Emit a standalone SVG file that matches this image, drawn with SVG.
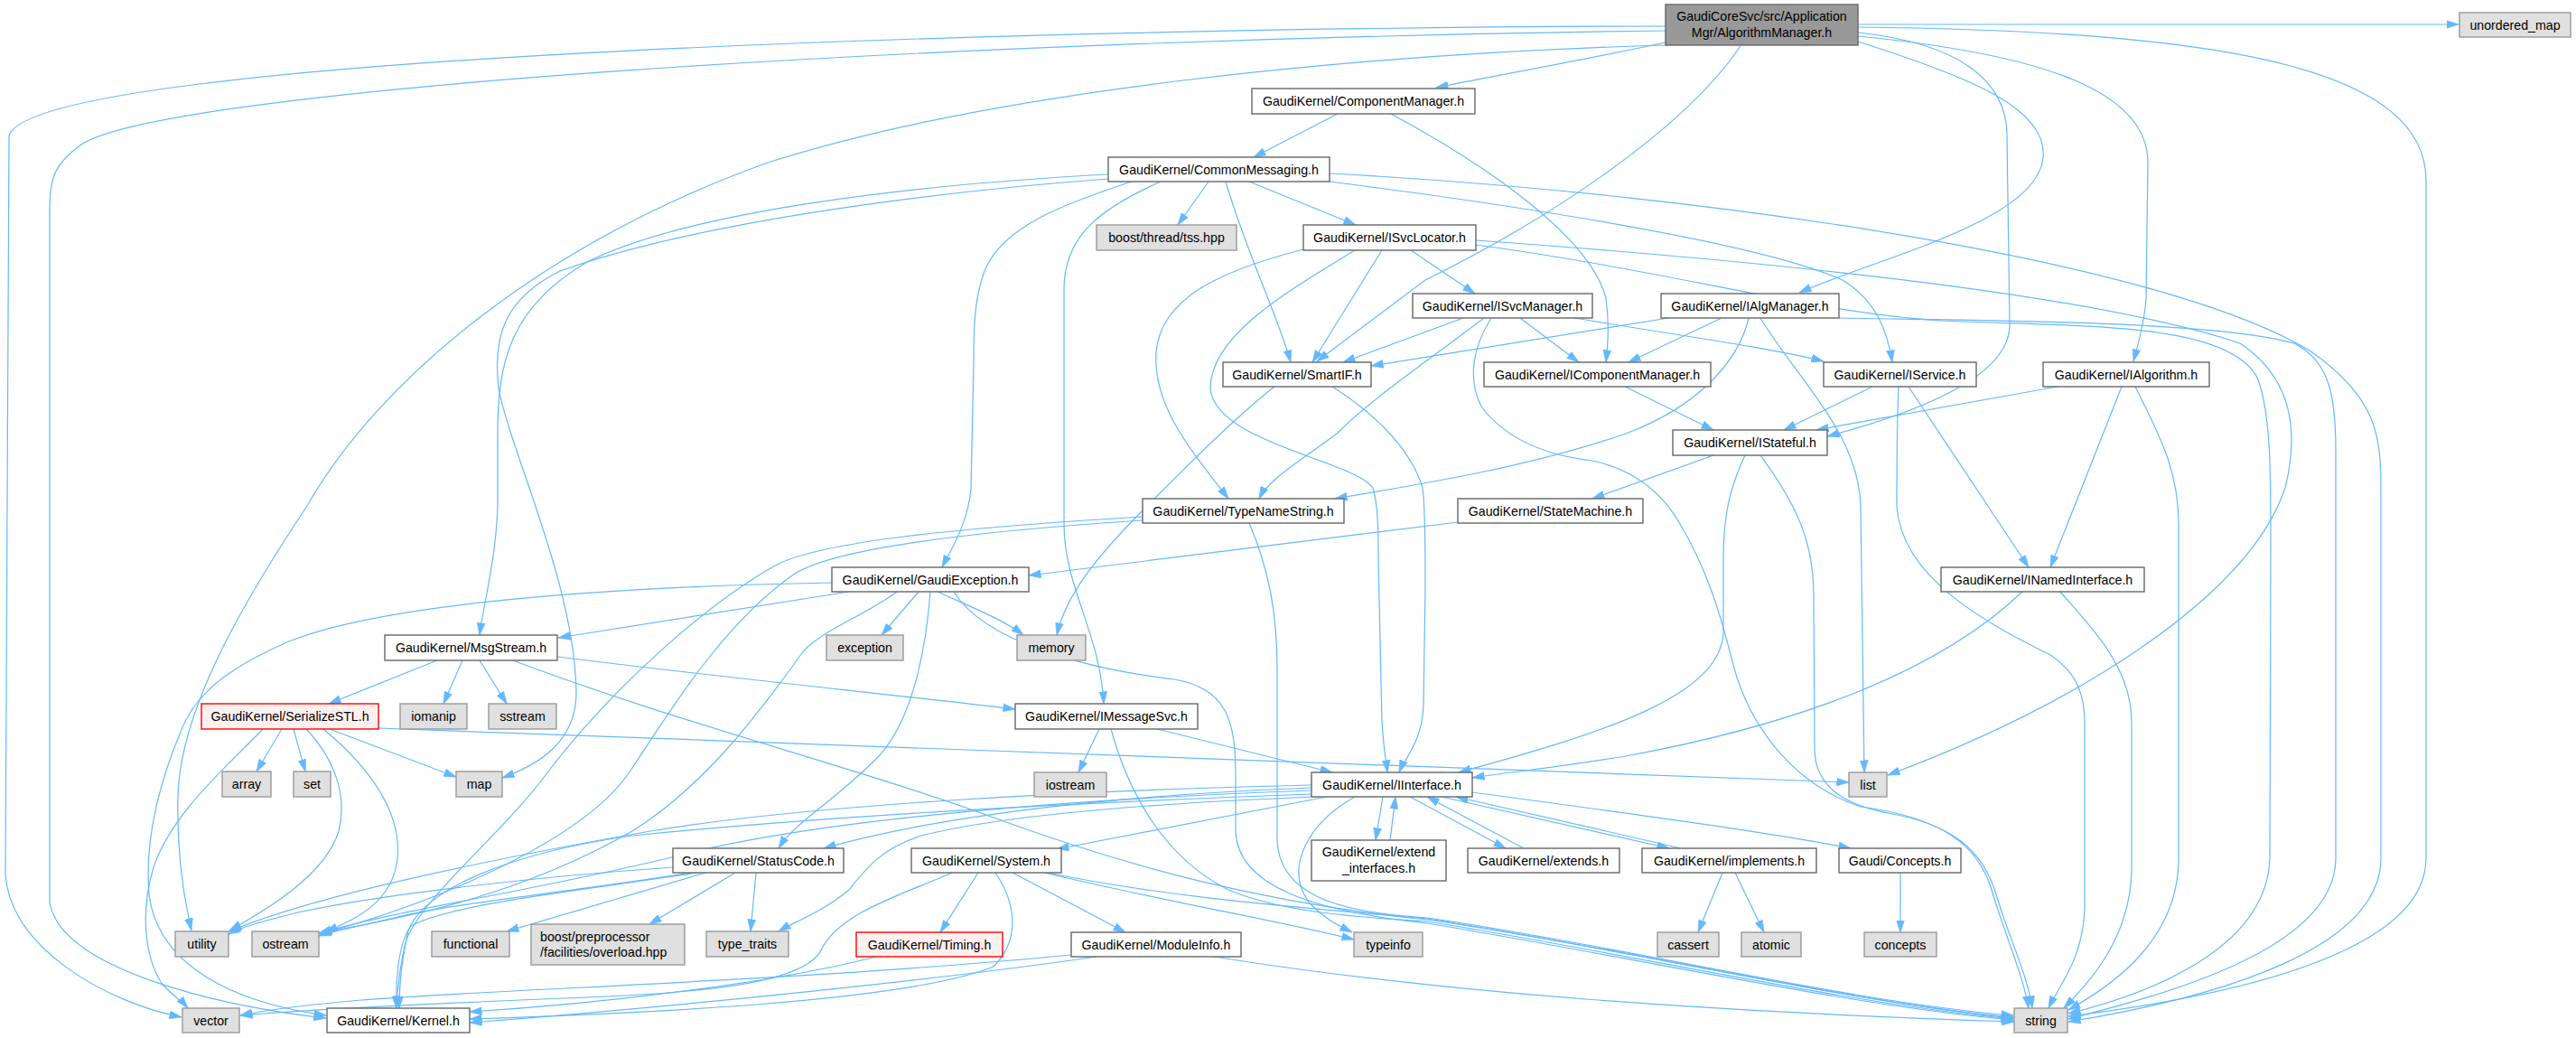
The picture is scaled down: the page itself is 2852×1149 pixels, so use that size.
<svg xmlns="http://www.w3.org/2000/svg" width="2852" height="1149" viewBox="0 0 2852 1149">
<style>
text{font-family:"Liberation Sans",Arial,sans-serif;font-size:14.2px;text-anchor:middle;fill:#000}
.tl{text-anchor:start}
.n{fill:#fff;stroke:#666;stroke-width:1.4}
.s{fill:#e0e0e0;stroke:#999;stroke-width:1.4}
.r{fill:#fff0f0;stroke:#f00;stroke-width:1.4}
.root{fill:#999;stroke:#666;stroke-width:1.4}
#edges path{fill:none;stroke:#63b8ff;stroke-width:1.2;marker-end:url(#a)}
</style>
<defs>
<marker id="a" viewBox="0 0 14 10" refX="13.5" refY="5" markerUnits="userSpaceOnUse" markerWidth="14" markerHeight="10" orient="auto"><path d="M0,0.5 L14,5 L0,9.5 z" fill="#63b8ff" stroke="#63b8ff" stroke-width="0.5"/></marker>
</defs>
<rect width="2852" height="1149" fill="#fff"/>
<g id="edges">
<path d="M1844,47 C1760,65 1660,83 1590,97"/>
<path d="M1927,51 C1860,150 1700,250 1578,310 L1458,400"/>
<path d="M2057,46 C2180,85 2268,120 2262,175 C2255,245 2080,285 1992,324"/>
<path d="M2057,40 C2260,60 2378,100 2378,180 L2376,330 C2374,360 2366,385 2362,400"/>
<path d="M2057,36 C2170,48 2222,90 2222,150 L2225,360 C2225,420 2110,460 2023,483"/>
<path d="M2057,30 C2480,34 2686,80 2686,200 L2686,950 C2686,1060 2450,1105 2290,1125"/>
<path d="M2057,27 L2722,27"/>
<path d="M1844,29 C1200,30 40,60 10,150 L6,967 C10,1050 120,1110 201,1126"/>
<path d="M1844,34 C1000,45 180,100 90,160 C62,180 55,195 55,230 L55,1000 C70,1075 250,1115 361,1127"/>
<path d="M1844,50 C1500,60 1100,100 850,180 C600,270 420,420 340,560 C260,680 200,790 197,880 C195,950 205,1000 212,1030"/>
<path d="M1481,126 L1388,174"/>
<path d="M1540,126 C1640,180 1760,260 1778,330 C1782,360 1780,382 1778,401"/>
<path d="M1338,201 L1304,249"/>
<path d="M1357,201 C1380,280 1415,350 1429,401"/>
<path d="M1383,201 L1501,249"/>
<path d="M1253,201 C1180,225 1110,250 1090,300 C1079,330 1078,360 1078,400 L1075,540 C1072,580 1052,610 1043,628"/>
<path d="M1285,201 C1220,230 1178,260 1178,320 L1178,580 C1178,650 1218,700 1222,779"/>
<path d="M1227,193 C1000,205 760,235 650,290 C565,340 551,400 551,480 L551,560 C549,620 535,670 531,703"/>
<path d="M1227,198 C1000,215 760,250 620,300 C560,330 545,370 552,430 C565,500 638,650 638,770 C636,820 600,845 556,861"/>
<path d="M1472,192 C1900,215 2400,290 2560,390 C2630,440 2636,480 2636,540 L2636,950 C2636,1060 2420,1110 2290,1131"/>
<path d="M1472,201 C1700,230 1950,270 2040,310 C2080,335 2090,370 2095,401"/>
<path d="M1443,276 C1350,300 1285,330 1280,390 C1276,450 1320,500 1360,552"/>
<path d="M1500,277 C1430,320 1340,370 1340,430 C1345,490 1500,510 1520,540 C1526,560 1526,590 1526,620 L1530,800 C1532,830 1535,845 1536,855"/>
<path d="M1530,277 L1453,401"/>
<path d="M1562,277 L1633,325"/>
<path d="M1634,266 C1900,285 2300,320 2480,380 C2540,420 2545,480 2530,540 C2490,660 2300,780 2090,858"/>
<path d="M1634,271 C1850,300 2000,345 2150,355 C2300,362 2470,355 2500,420 C2514,460 2514,520 2514,600 L2513,950 C2510,1050 2380,1100 2290,1122"/>
<path d="M1620,352 L1487,401"/>
<path d="M1643,352 C1580,400 1520,440 1480,480 C1440,510 1405,530 1394,552"/>
<path d="M1651,352 C1630,385 1625,420 1640,450 C1670,490 1720,505 1763,510 C1810,520 1840,545 1860,580 C1890,630 1905,680 1920,740 C1940,810 1990,870 2060,893 C2150,905 2190,935 2205,985 C2220,1035 2240,1080 2246,1116"/>
<path d="M1683,352 L1748,401"/>
<path d="M1743,352 C1850,370 1960,385 2019,400"/>
<path d="M1847,352 L1518,405"/>
<path d="M1906,352 L1803,401"/>
<path d="M1936,352 C1925,400 1880,450 1800,480 C1700,515 1580,535 1478,552"/>
<path d="M1949,352 C1990,420 2058,480 2060,560 L2064,855"/>
<path d="M2036,352 C2200,355 2450,355 2540,380 C2580,400 2586,440 2586,500 L2586,950 C2586,1050 2400,1100 2290,1128"/>
<path d="M1799,428 L1897,476"/>
<path d="M2073,428 L1975,476"/>
<path d="M2113,428 L2246,628"/>
<path d="M2102,428 C2100,470 2100,520 2100,560 C2105,640 2200,690 2270,725 C2300,745 2308,770 2308,800 L2308,1000 C2308,1060 2280,1090 2268,1116"/>
<path d="M2278,428 L2011,476"/>
<path d="M2349,428 L2270,628"/>
<path d="M2364,428 C2390,480 2412,520 2412,580 L2412,950 C2412,1040 2340,1090 2290,1118"/>
<path d="M1897,504 L1763,552"/>
<path d="M1932,504 C1915,540 1908,570 1908,620 L1908,700 C1905,770 1780,810 1615,855"/>
<path d="M1949,504 C1990,560 2008,600 2008,660 L2009,830 C2010,870 2040,890 2090,900 C2160,912 2195,940 2210,990 C2225,1040 2245,1080 2250,1116"/>
<path d="M1614,578 L1139,637"/>
<path d="M2239,655 C2150,740 2000,800 1800,837 C1720,850 1670,855 1630,861"/>
<path d="M2281,655 C2320,700 2360,740 2360,800 L2360,960 C2360,1040 2310,1090 2285,1116"/>
<path d="M1265,572 C1050,585 910,600 860,625 C780,670 680,760 610,850 C560,920 470,990 450,1040 C442,1070 440,1095 439,1116"/>
<path d="M1265,576 C1050,590 920,610 880,635 C800,690 740,790 700,850 C650,930 480,1000 354,1034"/>
<path d="M1383,579 C1405,630 1414,680 1414,740 L1414,930 C1416,990 1480,1010 1580,1016 C1800,1048 2050,1110 2229,1124"/>
<path d="M940,655 L618,706"/>
<path d="M921,645 C650,650 420,670 320,710 C250,740 215,770 200,810 C175,870 160,930 165,990 C175,1070 260,1110 361,1124"/>
<path d="M993,655 C960,680 915,695 890,720 C840,790 780,870 700,920 C560,1000 420,1020 354,1033"/>
<path d="M1017,655 L976,703"/>
<path d="M1030,655 C1025,720 1010,800 970,840 C920,890 880,910 862,939"/>
<path d="M1038,655 C1070,670 1110,685 1133,703"/>
<path d="M1056,655 C1090,710 1200,740 1300,752 C1360,762 1368,800 1368,860 L1368,920 C1370,980 1450,1008 1580,1022 C1800,1058 2050,1114 2229,1129"/>
<path d="M1475,428 C1510,450 1560,490 1575,540 C1578,560 1578,600 1578,650 L1576,780 C1575,820 1555,840 1549,855"/>
<path d="M1411,428 C1370,460 1320,510 1270,560 C1210,620 1180,660 1170,703"/>
<path d="M484,731 L364,779"/>
<path d="M512,731 L491,779"/>
<path d="M531,731 L561,779"/>
<path d="M617,727 C800,750 1000,770 1124,785"/>
<path d="M568,731 C750,800 950,850 1100,905 C1250,960 1400,1000 1580,1018 C1800,1050 2050,1110 2229,1126"/>
<path d="M1217,807 L1194,855"/>
<path d="M1281,807 L1475,855"/>
<path d="M1230,807 C1250,880 1290,950 1360,985 C1420,1010 1500,1015 1580,1020 C1800,1055 2050,1112 2229,1128"/>
<path d="M312,807 L284,854"/>
<path d="M325,807 L338,854"/>
<path d="M365,807 L505,860"/>
<path d="M419,806 L2047,866"/>
<path d="M339,807 C370,840 385,880 375,920 C360,970 290,1010 254,1030"/>
<path d="M358,807 C410,850 445,900 440,950 C435,1000 390,1020 360,1031"/>
<path d="M291,807 C250,850 190,900 170,960 C155,1010 160,1060 180,1090 C195,1105 203,1110 208,1116"/>
<path d="M745,960 C600,970 420,990 330,1010 C290,1020 268,1026 253,1034"/>
<path d="M765,966 C650,985 500,1000 440,1015 C400,1025 370,1030 353,1036"/>
<path d="M772,966 C650,985 500,1000 455,1025 C440,1045 438,1090 439,1116"/>
<path d="M781,966 L561,1031"/>
<path d="M814,966 L719,1023"/>
<path d="M837,966 L831,1031"/>
<path d="M1452,872 C1250,880 1050,900 912,939"/>
<path d="M1452,869 C1200,875 900,890 720,920 C550,950 350,990 254,1031"/>
<path d="M1452,875 C1200,884 920,905 760,945 C600,985 450,1005 353,1033"/>
<path d="M1452,879 C1150,890 900,905 700,925 C560,945 470,985 452,1030 C445,1060 442,1090 442,1116"/>
<path d="M1458,882 C1250,890 1100,905 1020,925 C975,940 960,960 940,985 C910,1010 880,1020 862,1031"/>
<path d="M1469,882 L1170,940"/>
<path d="M1500,882 C1450,910 1420,960 1450,1000 C1470,1020 1485,1026 1497,1032"/>
<path d="M1531,882 L1523,930"/>
<path d="M1539,930 L1545,882"/>
<path d="M1561,882 L1667,939"/>
<path d="M1687,939 L1580,882"/>
<path d="M1596,882 L1848,939"/>
<path d="M1861,939 L1612,882"/>
<path d="M1630,877 C1800,900 1950,920 2049,939"/>
<path d="M1907,966 L1880,1032"/>
<path d="M1921,966 L1953,1032"/>
<path d="M2104,966 L2104,1032"/>
<path d="M1054,966 C1000,990 930,1010 910,1050 C895,1085 800,1098 650,1104 C500,1110 340,1118 266,1124"/>
<path d="M1083,966 L1041,1032"/>
<path d="M1102,966 C1125,1000 1130,1040 1100,1070 C1000,1110 700,1122 520,1128"/>
<path d="M1121,966 L1246,1032"/>
<path d="M1156,966 C1300,1000 1420,1020 1499,1040"/>
<path d="M1160,966 C1300,995 1450,1005 1580,1017 C1800,1050 2050,1110 2229,1127"/>
<path d="M970,1059 C850,1090 650,1112 520,1120"/>
<path d="M1214,1059 C1000,1090 700,1118 520,1132"/>
<path d="M1186,1057 C900,1085 550,1095 400,1107 C330,1113 290,1119 266,1124"/>
<path d="M1344,1059 C1600,1100 1900,1120 2230,1131"/>
</g>
<g id="n_root"><rect class="root" x="1844" y="5" width="213" height="45"/><text x="1950.5" y="23">GaudiCoreSvc/src/Application</text><text x="1950.5" y="40.5">Mgr/AlgorithmManager.h</text></g>
<g id="n_unordered_map"><rect class="s" x="2723" y="14" width="123" height="27"/><text x="2784.5" y="32.5">unordered_map</text></g>
<g id="n_ComponentManager"><rect class="n" x="1386" y="98" width="247" height="28"/><text x="1509.5" y="117">GaudiKernel/ComponentManager.h</text></g>
<g id="n_CommonMessaging"><rect class="n" x="1227" y="174" width="245" height="27"/><text x="1349.5" y="192.5">GaudiKernel/CommonMessaging.h</text></g>
<g id="n_tss"><rect class="s" x="1214" y="249" width="155" height="28"/><text x="1291.5" y="268">boost/thread/tss.hpp</text></g>
<g id="n_ISvcLocator"><rect class="n" x="1443" y="249" width="191" height="28"/><text x="1538.5" y="268">GaudiKernel/ISvcLocator.h</text></g>
<g id="n_ISvcManager"><rect class="n" x="1564" y="325" width="199" height="27"/><text x="1663.5" y="343.5">GaudiKernel/ISvcManager.h</text></g>
<g id="n_IAlgManager"><rect class="n" x="1839" y="325" width="197" height="27"/><text x="1937.5" y="343.5">GaudiKernel/IAlgManager.h</text></g>
<g id="n_SmartIF"><rect class="n" x="1354" y="401" width="164" height="27"/><text x="1436" y="419.5">GaudiKernel/SmartIF.h</text></g>
<g id="n_IComponentManager"><rect class="n" x="1643" y="401" width="251" height="27"/><text x="1768.5" y="419.5">GaudiKernel/IComponentManager.h</text></g>
<g id="n_IService"><rect class="n" x="2019" y="401" width="169" height="27"/><text x="2103.5" y="419.5">GaudiKernel/IService.h</text></g>
<g id="n_IAlgorithm"><rect class="n" x="2262" y="401" width="184" height="27"/><text x="2354" y="419.5">GaudiKernel/IAlgorithm.h</text></g>
<g id="n_IStateful"><rect class="n" x="1852" y="476" width="171" height="28"/><text x="1937.5" y="495">GaudiKernel/IStateful.h</text></g>
<g id="n_TypeNameString"><rect class="n" x="1265" y="552" width="223" height="27"/><text x="1376.5" y="570.5">GaudiKernel/TypeNameString.h</text></g>
<g id="n_StateMachine"><rect class="n" x="1614" y="552" width="205" height="27"/><text x="1716.5" y="570.5">GaudiKernel/StateMachine.h</text></g>
<g id="n_GaudiException"><rect class="n" x="921" y="628" width="218" height="27"/><text x="1030" y="646.5">GaudiKernel/GaudiException.h</text></g>
<g id="n_INamedInterface"><rect class="n" x="2149" y="628" width="225" height="27"/><text x="2261.5" y="646.5">GaudiKernel/INamedInterface.h</text></g>
<g id="n_MsgStream"><rect class="n" x="426" y="703" width="191" height="28"/><text x="521.5" y="722">GaudiKernel/MsgStream.h</text></g>
<g id="n_exception"><rect class="s" x="915" y="703" width="85" height="28"/><text x="957.5" y="722">exception</text></g>
<g id="n_memory"><rect class="s" x="1126" y="703" width="76" height="28"/><text x="1164" y="722">memory</text></g>
<g id="n_SerializeSTL"><rect class="r" x="223" y="779" width="196" height="28"/><text x="321" y="798">GaudiKernel/SerializeSTL.h</text></g>
<g id="n_iomanip"><rect class="s" x="443" y="779" width="74" height="28"/><text x="480" y="798">iomanip</text></g>
<g id="n_sstream"><rect class="s" x="541" y="779" width="75" height="28"/><text x="578.5" y="798">sstream</text></g>
<g id="n_IMessageSvc"><rect class="n" x="1124" y="779" width="202" height="28"/><text x="1225" y="798">GaudiKernel/IMessageSvc.h</text></g>
<g id="n_array"><rect class="s" x="246" y="854" width="54" height="28"/><text x="273" y="873">array</text></g>
<g id="n_set"><rect class="s" x="325" y="854" width="41" height="28"/><text x="345.5" y="873">set</text></g>
<g id="n_map"><rect class="s" x="505" y="854" width="51" height="28"/><text x="530.5" y="873">map</text></g>
<g id="n_iostream"><rect class="s" x="1145" y="855" width="80" height="27"/><text x="1185" y="873.5">iostream</text></g>
<g id="n_IInterface"><rect class="n" x="1452" y="855" width="178" height="27"/><text x="1541" y="873.5">GaudiKernel/IInterface.h</text></g>
<g id="n_list"><rect class="s" x="2047" y="855" width="42" height="27"/><text x="2068" y="873.5">list</text></g>
<g id="n_StatusCode"><rect class="n" x="745" y="939" width="189" height="27"/><text x="839.5" y="957.5">GaudiKernel/StatusCode.h</text></g>
<g id="n_System"><rect class="n" x="1009" y="939" width="166" height="27"/><text x="1092" y="957.5">GaudiKernel/System.h</text></g>
<g id="n_extend_interfaces"><rect class="n" x="1452" y="930" width="149" height="45"/><text x="1526.5" y="948">GaudiKernel/extend</text><text x="1526.5" y="965.5">_interfaces.h</text></g>
<g id="n_extends"><rect class="n" x="1625" y="939" width="168" height="27"/><text x="1709" y="957.5">GaudiKernel/extends.h</text></g>
<g id="n_implements"><rect class="n" x="1818" y="939" width="193" height="27"/><text x="1914.5" y="957.5">GaudiKernel/implements.h</text></g>
<g id="n_Concepts"><rect class="n" x="2036" y="939" width="135" height="27"/><text x="2103.5" y="957.5">Gaudi/Concepts.h</text></g>
<g id="n_utility"><rect class="s" x="194" y="1031" width="59" height="28"/><text x="223.5" y="1050">utility</text></g>
<g id="n_ostream"><rect class="s" x="279" y="1031" width="74" height="28"/><text x="316" y="1050">ostream</text></g>
<g id="n_functional"><rect class="s" x="478" y="1031" width="86" height="28"/><text x="521" y="1050">functional</text></g>
<g id="n_overload"><rect class="s" x="588" y="1023" width="170" height="45"/><text class="tl" x="598" y="1041.5">boost/preprocessor</text><text class="tl" x="598" y="1059">/facilities/overload.hpp</text></g>
<g id="n_type_traits"><rect class="s" x="782" y="1031" width="91" height="28"/><text x="827.5" y="1050">type_traits</text></g>
<g id="n_Timing"><rect class="r" x="948" y="1032" width="162" height="27"/><text x="1029" y="1050.5">GaudiKernel/Timing.h</text></g>
<g id="n_ModuleInfo"><rect class="n" x="1186" y="1032" width="188" height="27"/><text x="1280" y="1050.5">GaudiKernel/ModuleInfo.h</text></g>
<g id="n_typeinfo"><rect class="s" x="1499" y="1032" width="76" height="27"/><text x="1537" y="1050.5">typeinfo</text></g>
<g id="n_cassert"><rect class="s" x="1835" y="1032" width="68" height="27"/><text x="1869" y="1050.5">cassert</text></g>
<g id="n_atomic"><rect class="s" x="1928" y="1032" width="66" height="27"/><text x="1961" y="1050.5">atomic</text></g>
<g id="n_concepts"><rect class="s" x="2064" y="1032" width="80" height="27"/><text x="2104" y="1050.5">concepts</text></g>
<g id="n_vector"><rect class="s" x="202" y="1116" width="63" height="27"/><text x="233.5" y="1134.5">vector</text></g>
<g id="n_Kernel"><rect class="n" x="362" y="1116" width="158" height="27"/><text x="441" y="1134.5">GaudiKernel/Kernel.h</text></g>
<g id="n_string"><rect class="s" x="2230" y="1116" width="59" height="27"/><text x="2259.5" y="1134.5">string</text></g>
</svg>
